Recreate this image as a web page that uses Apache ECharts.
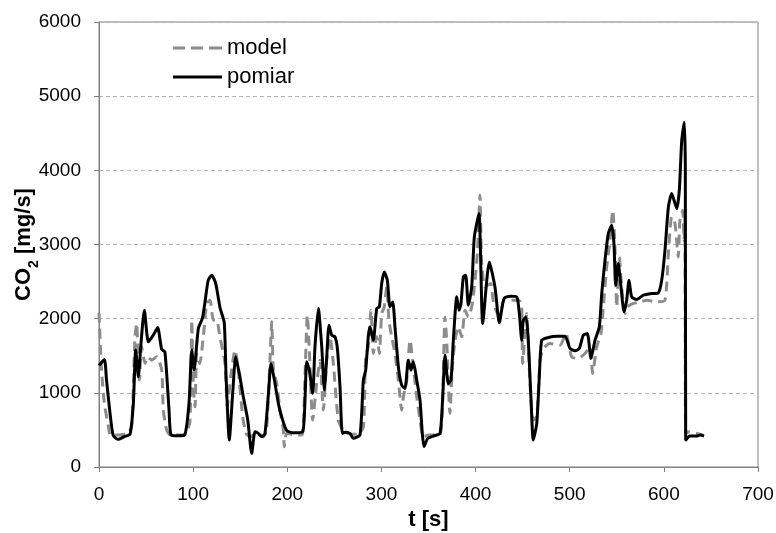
<!DOCTYPE html>
<html>
<head>
<meta charset="utf-8">
<script src="https://cdn.jsdelivr.net/npm/echarts@6/dist/echarts.min.js"></script>
<style>
  html, body { margin: 0; padding: 0; background: #fff; }
  #chart { width: 776px; height: 533px; }
</style>
</head>
<body>
<div id="chart"></div>
<script>
// pomiar (measurement) - time [s] and CO2 [mg/s]
var pomiarT = [0, 5.7, 8, 11.7, 15, 20, 27, 33, 36.5, 39, 41.8, 44.3, 48.2, 52.4, 57.7, 62.3, 66.6, 70, 74.4, 76.5,
  84, 91, 95.6, 98.5, 101, 105.5, 109.8, 112.6, 116, 119.7, 124, 128.5, 133, 135, 138.4, 142, 145.2, 149, 153.3, 158,
  162.2, 165.7, 169.2, 172.8, 176.3, 180, 182.7, 186.3, 190.5, 194, 199.4, 206.4, 216.3, 218.8, 220.6, 223.4, 227, 229.4, 233, 236.6,
  239.4, 241.9, 244.3, 247.2, 250.7, 253.2, 256, 258.5, 262, 266.6, 270, 277.2, 280.8, 283.3, 286, 287.9, 291.4, 295, 297.8, 300.3,
  303, 306.3, 309, 312, 314.4, 318, 321.5, 325, 328.6, 331.4, 333.9, 337.5, 341, 343.4, 345.2, 349.1, 355.1, 362.2, 365.1, 367.5,
  371, 373.9, 376.4, 380, 382.4, 384.5, 387, 389.5, 392.3, 395.9, 398.7, 403.6, 407.6, 414.6, 420.6, 425.2, 430.2, 436.6, 443.7, 446.5,
  449, 450.7, 453.6, 456, 458.9, 461.3, 465, 467.7, 470.3, 477.3, 486.2, 495, 500.3, 505.6, 510.2, 514.4, 518.7, 522.6, 526.9, 531.5,
  534, 537.5, 541, 544.6, 547, 548.8, 551.6, 554.1, 557.7, 560.5, 563, 565.8, 571.1, 578.2, 587.1, 594.1, 597.7, 601.2, 604.8, 608.3,
  610.8, 613.7, 616.4, 619, 621.7, 622.8, 623.2, 627.8, 634.9, 638.4, 642.7];
var pomiarV = [1370, 1450, 1170, 727, 430, 373, 410, 444, 860, 1576, 1217, 1620, 2114, 1688, 1778, 1881, 1585, 1553, 768, 431,
  420, 431, 858, 1576, 1306, 1868, 2003, 2226, 2518, 2586, 2474, 2150, 1950, 1216, 364, 993, 1486, 1262, 947, 633,
  184, 475, 453, 408, 453, 993, 1397, 1172, 858, 677, 489, 462, 475, 902, 1418, 1306, 993, 1620, 2137, 1620,
  1037, 1486, 1912, 1778, 1755, 1599, 1082, 453, 470, 453, 386, 431, 1172, 1306, 1755, 1890, 1710, 2137, 2159, 2474,
  2630, 2518, 2159, 2226, 1890, 1351, 1104, 1060, 1441, 1306, 1418, 1172, 902, 453, 273, 386, 417, 453, 947, 1508,
  1127, 1172, 1710, 2294, 2114, 2205, 2563, 2586, 2182, 2428, 3102, 3417, 1935, 2765, 2428, 1944, 2272, 2303, 2294, 2070,
  1710, 1980, 2024, 1710, 902, 364, 589, 1216, 1710, 1746, 1764, 1764, 1599, 1566, 1599, 1778, 1800, 1464, 1710, 1890,
  2339, 2788, 3147, 3259, 3013, 2451, 2743, 2474, 2092, 2249, 2518, 2294, 2258, 2316, 2339, 2348, 2518, 2922, 3506, 3686,
  3596, 3484, 3731, 4404, 4650, 4044, 364, 417, 417, 431, 417];

// model - time [s] and CO2 [mg/s]
var modelT = [0, 2.5, 5.7, 10, 12, 20, 30, 34.7, 38.2, 40, 41.8, 42.8, 45.3, 48.9, 51.7, 56, 61.3, 66.6, 68.3, 71.9,
  76, 90, 96.5, 98.5, 100.2, 102, 103.8, 107, 110.8, 114.4, 118, 121.4, 125, 128.5, 133.8, 136.3, 139.9, 144.5, 148, 152.6,
  156.2, 160.4, 167.5, 174.5, 178, 181.6, 183.5, 185.2, 188.8, 192.3, 195.8, 196.8, 199.4, 210, 216, 218.8, 221.3, 223.4, 227, 231.2,
  234.8, 238.3, 241.9, 245.4, 248.9, 254.2, 259.5, 265, 275, 280.8, 283.3, 286, 288.9, 291.4, 295, 297.8, 300.3, 303, 305.6, 308,
  310.9, 314.4, 318, 321.5, 323.3, 326.9, 330.4, 333.9, 337.5, 341, 344.5, 350, 362, 364.7, 367.5, 369.3, 372.8, 375.3, 378.2, 381.7,
  385.3, 388.8, 392.3, 395.9, 398.7, 402, 404.7, 406.5, 410, 416, 418.6, 422, 426, 430, 440, 446, 449, 450, 454.3, 457.8,
  461.3, 465, 468.5, 472, 479, 489.7, 496, 502, 509, 516.2, 521.6, 524.4, 528.6, 533.2, 535.7, 539.3, 542.8, 545.7, 548.1, 549.9,
  552.7, 555.2, 558.7, 561.6, 567.6, 574.7, 581.8, 592.4, 601.2, 604.8, 608.3, 611.8, 615.3, 617.1, 620, 621.4, 622.5, 623.2, 626, 642];
var modelV = [2080, 1350, 860, 545, 430, 430, 450, 543, 1755, 1935, 1306, 1172, 1620, 1397, 1486, 1441, 1486, 1306, 768, 498,
  430, 430, 600, 1980, 1082, 812, 1531, 1397, 1755, 2205, 2249, 1980, 1980, 1750, 1397, 812, 1216, 1576, 1306, 677,
  453, 408, 453, 408, 500, 1441, 1957, 1306, 1127, 768, 498, 273, 453, 430, 440, 1216, 2047, 1576, 633, 1127,
  1441, 768, 1441, 1755, 1397, 633, 498, 450, 440, 543, 1486, 1620, 2114, 1531, 1755, 1531, 2070, 2159, 2428, 1980,
  1755, 1531, 1172, 768, 947, 1172, 1710, 1351, 947, 633, 408, 430, 440, 768, 2024, 1710, 723, 1351, 1710, 1890,
  1755, 2114, 2024, 2159, 2428, 2900, 3663, 2743, 2428, 2474, 2249, 2100, 2050, 2250, 2250, 2250, 2159, 1397, 2070, 1127,
  633, 677, 1441, 1599, 1666, 1643, 1800, 1486, 1464, 1531, 1620, 1262, 1620, 1800, 2159, 2698, 3057, 3461, 2967, 2159,
  2832, 2428, 2070, 2159, 2205, 2226, 2249, 2226, 2249, 2878, 3371, 3282, 2832, 3327, 3461, 3057, 3400, 450, 475, 430];

var xTicks = { min: 0, max: 700, interval: 100 };
var yTicks = { min: 0, max: 6000, interval: 1000 };

function pairs(ts, vs) {
  var out = [];
  for (var i = 0; i < ts.length; i++) out.push([ts[i], vs[i]]);
  return out;
}

var font = 'Liberation Sans, Arial, sans-serif';
var myChart = echarts.init(document.getElementById('chart'), null, { renderer: 'canvas' });
myChart.setOption({
  animation: false,
  backgroundColor: '#fff',
  textStyle: { fontFamily: font },
  grid: {
    left: 99, right: 18, top: 22, bottom: 66, outerBoundsMode: 'none', containLabel: false,
    show: true, borderColor: '#808080', borderWidth: 1
  },
  legend: {
    orient: 'vertical', left: 168, top: 32,
    itemWidth: 49, itemHeight: 3, itemGap: 7,
    itemStyle: { borderWidth: 0 },
    textStyle: { fontSize: 22, color: '#000', fontFamily: font, lineHeight: 22 },
    data: [
      { name: 'model', icon: 'path://M0,0h12v3h-12z M18,0h12v3h-12z M36,0h13v3h-13z' },
      { name: 'pomiar', icon: 'rect' }
    ]
  },
  xAxis: {
    type: 'value', min: xTicks.min, max: xTicks.max, interval: xTicks.interval,
    name: 't [s]', nameLocation: 'middle', nameGap: 42, nameMoveOverlap: false,
    nameTextStyle: { fontSize: 22, fontWeight: 'bold', color: '#000', fontFamily: font },
    axisLine: { lineStyle: { color: '#808080', width: 1 } },
    axisTick: { show: true, length: 5, lineStyle: { color: '#808080' } },
    axisLabel: { fontSize: 19, color: '#000', margin: 18, fontFamily: font, formatter: function (v) { return String(v); } },
    splitLine: { show: false }
  },
  yAxis: {
    type: 'value', min: yTicks.min, max: yTicks.max, interval: yTicks.interval,
    name: '{a|CO}{b|2}{a| [mg/s]}', nameLocation: 'middle', nameGap: 60, nameRotate: 90, nameMoveOverlap: false,
    nameTextStyle: {
      color: '#000', fontFamily: font,
      rich: {
        a: { fontSize: 22, fontWeight: 'bold', color: '#000', fontFamily: font, lineHeight: 26, verticalAlign: 'top' },
        b: { fontSize: 14, fontWeight: 'bold', color: '#000', fontFamily: font, lineHeight: 14, verticalAlign: 'top', padding: [14, 0, 0, 0] }
      }
    },
    axisLine: { show: true, lineStyle: { color: '#808080', width: 1 } },
    axisTick: { show: true, length: 5, lineStyle: { color: '#808080' } },
    axisLabel: { fontSize: 19, color: '#000', margin: 18, fontFamily: font, formatter: function (v) { return String(v); } },
    splitLine: { show: true, lineStyle: { color: '#b4b4b4', type: [4, 3], width: 1 } }
  },
  series: [
    {
      name: 'model', type: 'line', data: pairs(modelT, modelV),
      symbol: 'none', smooth: 0.2,
      lineStyle: { color: '#8c8c8c', width: 3, type: [10, 6] },
      itemStyle: { color: '#8c8c8c' }
    },
    {
      name: 'pomiar', type: 'line', data: pairs(pomiarT, pomiarV),
      symbol: 'none', smooth: 0.2,
      lineStyle: { color: '#000', width: 3 },
      itemStyle: { color: '#000' }
    }
  ]
});
</script>
</body>
</html>
